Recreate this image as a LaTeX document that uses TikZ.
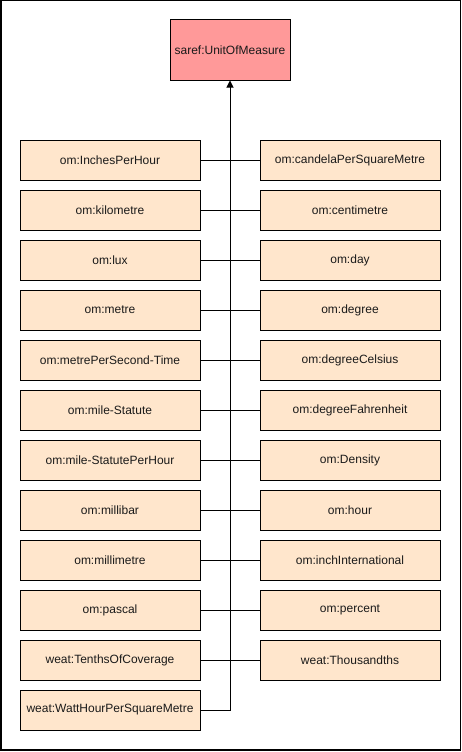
\documentclass[tikz,border=0pt]{standalone}
\usepackage{fontspec}
\setmainfont{Liberation Sans}
\usetikzlibrary{arrows.meta}
\definecolor{boxfill}{HTML}{FFE6CC}
\definecolor{topfill}{HTML}{FF9999}
\definecolor{txt}{HTML}{1A1A1A}
\begin{document}
\begin{tikzpicture}[x=1pt,y=-1pt,
  unitbox/.style={draw=black,line width=1pt,fill=boxfill,minimum width=180pt,minimum height=40pt,inner sep=0pt,font=\fontsize{12}{14}\selectfont,text=txt},
  topbox/.style={draw=black,line width=1pt,fill=topfill,minimum width=120pt,minimum height=60pt,inner sep=0pt,font=\fontsize{12}{14}\selectfont,text=txt},
  link/.style={draw=black,line width=1pt},
  subarrow/.style={link,-{Triangle[width=7pt,length=7pt]}}]
\useasboundingbox (0,0) rectangle (462,752);
\draw[line width=1.5pt] (0.75,0.75) rectangle (460.5,750);
\node[topbox] (top) at (230,50) {saref:UnitOfMeasure};
\foreach \i/\t in {1/om:InchesPerHour,2/om:kilometre,3/om:lux,4/om:metre,5/om:metrePerSecond-Time,6/om:mile-Statute,7/om:mile-StatutePerHour,8/om:millibar,9/om:millimetre,10/om:pascal,11/weat:TenthsOfCoverage,12/weat:WattHourPerSquareMetre}
  \node[unitbox] (L\i) at (110,110+50*\i) {\t};
\foreach \i/\t in {1/om:candelaPerSquareMetre,2/om:centimetre,3/om:day,4/om:degree,5/om:degreeCelsius,6/om:degreeFahrenheit,7/om:Density,8/om:hour,9/om:inchInternational,10/om:percent,11/weat:Thousandths}
  \node[unitbox] (R\i) at (350,110+50*\i) {\t};
\foreach \i in {1,...,11}
  \draw[link] (L\i.east) -- (R\i.west);
\draw[subarrow] (L12.east) -| (top.south);
\end{tikzpicture}
\end{document}
